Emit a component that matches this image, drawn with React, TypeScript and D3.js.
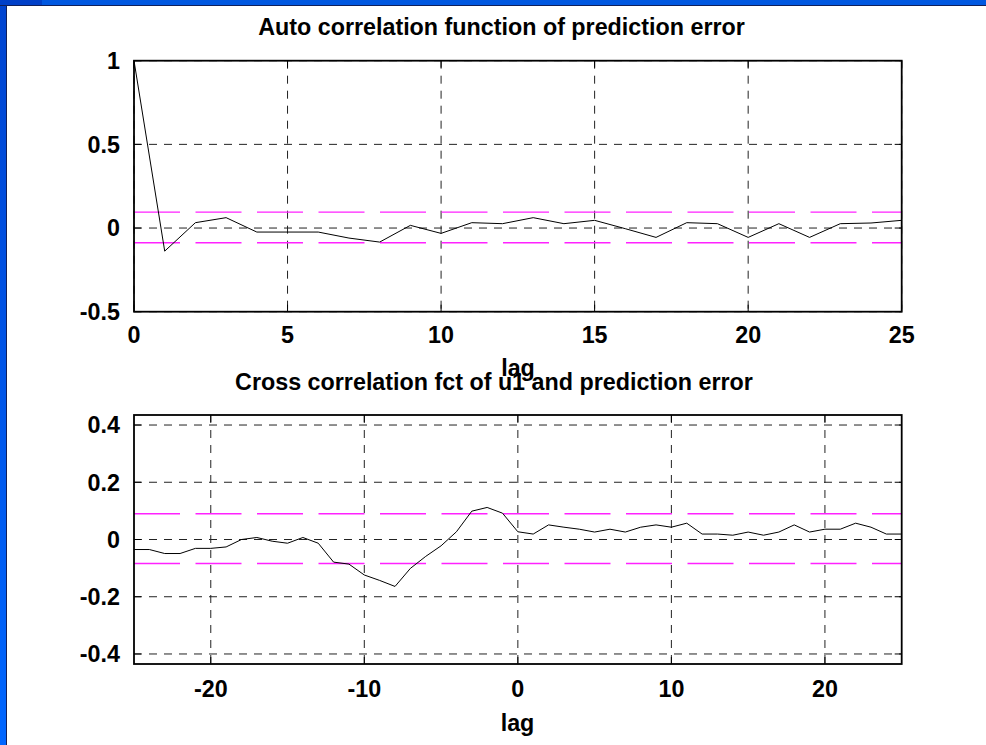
import React from "react";
import * as d3 from "d3";

const W = 986;
const H = 745;

// Auto correlation (lags 0..25)
const acfLags = d3.range(0, 26);
const acfValues = [
  1.0, -0.138, 0.032, 0.062, -0.024, -0.024, -0.024, -0.06, -0.084, 0.016,
  -0.032, 0.032, 0.026, 0.062, 0.026, 0.046, -0.004, -0.056, 0.032, 0.026,
  -0.056, 0.026, -0.056, 0.026, 0.03, 0.046,
];
const acfConf = [0.095, -0.088];
const acfXTicks = [0, 5, 10, 15, 20, 25];
const acfYTicks = [-0.5, 0, 0.5, 1];
const acfYLabels = ["-0.5", "0", "0.5", "1"];

// Cross correlation (lags -25..25)
const ccfLags = d3.range(-25, 26);
const ccfValues = [
  -0.035, -0.035, -0.049, -0.049, -0.031, -0.031, -0.026, 0.0, 0.007, -0.006,
  -0.013, 0.007, -0.013, -0.079, -0.086, -0.124, -0.143, -0.164, -0.101, -0.059,
  -0.022, 0.027, 0.099, 0.112, 0.092, 0.027, 0.019, 0.051, 0.043, 0.036,
  0.026, 0.036, 0.026, 0.043, 0.051, 0.043, 0.057, 0.019, 0.019, 0.015,
  0.026, 0.015, 0.026, 0.051, 0.026, 0.036, 0.036, 0.057, 0.043, 0.019, 0.019,
];
const ccfConf = [0.09, -0.084];
const ccfXTicks = [-20, -10, 0, 10, 20];
const ccfYTicks = [-0.4, -0.2, 0, 0.2, 0.4];
const ccfYLabels = ["-0.4", "-0.2", "0", "0.2", "0.4"];

const FONT = "'Liberation Sans', Arial, Helvetica, sans-serif";
const FS = 23.3;

type PanelProps = {
  x: d3.ScaleLinear<number, number>;
  y: d3.ScaleLinear<number, number>;
  lags: number[];
  values: number[];
  conf: number[];
  xTicks: number[];
  yTicks: number[];
  yLabels: string[];
  xLabelBaseline: number;
  title: string;
  titleX: number;
  titleY: number;
  lagX: number;
  lagY: number;
};

function Panel(p: PanelProps) {
  const [x0, x1] = p.x.range();
  const [y0, y1] = p.y.range(); // y0 bottom, y1 top
  const line = d3
    .line<number>()
    .x((_, i) => p.x(p.lags[i]))
    .y((v) => p.y(v));
  const tickLen = 7;
  return (
    <g>
      {p.xTicks.map((t) => (
        <line
          key={"gx" + t}
          x1={p.x(t)}
          x2={p.x(t)}
          y1={y1}
          y2={y0}
          stroke="#222"
          strokeWidth={1}
          strokeDasharray="8,7"
        />
      ))}
      {p.yTicks.map((t) => (
        <line
          key={"gy" + t}
          x1={x0}
          x2={x1}
          y1={p.y(t)}
          y2={p.y(t)}
          stroke="#222"
          strokeWidth={1}
          strokeDasharray="8,7"
        />
      ))}
      {p.conf.map((c, i) => (
        <line
          key={"c" + i}
          x1={x0}
          x2={x1}
          y1={p.y(c)}
          y2={p.y(c)}
          stroke="#ff22ff"
          strokeWidth={1.4}
          strokeDasharray="46,15.5"
        />
      ))}
      <path d={line(p.values) || ""} fill="none" stroke="#000" strokeWidth={1} />
      {p.xTicks.map((t) => (
        <g key={"tx" + t}>
          <line x1={p.x(t)} x2={p.x(t)} y1={y0} y2={y0 - tickLen} stroke="#000" />
          <line x1={p.x(t)} x2={p.x(t)} y1={y1} y2={y1 + tickLen} stroke="#000" />
        </g>
      ))}
      {p.yTicks.map((t) => (
        <g key={"ty" + t}>
          <line x1={x0} x2={x0 + tickLen} y1={p.y(t)} y2={p.y(t)} stroke="#000" />
          <line x1={x1} x2={x1 - tickLen} y1={p.y(t)} y2={p.y(t)} stroke="#000" />
        </g>
      ))}
      <rect
        x={x0}
        y={y1}
        width={x1 - x0}
        height={y0 - y1}
        fill="none"
        stroke="#000"
        strokeWidth={1.8}
      />
      {p.xTicks.map((t) => (
        <text
          key={"lx" + t}
          x={p.x(t)}
          y={p.xLabelBaseline}
          textAnchor="middle"
          fontFamily={FONT}
          fontWeight="bold"
          fontSize={FS}
        >
          {String(t)}
        </text>
      ))}
      {p.yTicks.map((t, i) => (
        <text
          key={"ly" + t}
          x={x0 - 14}
          y={p.y(t)}
          dy="0.36em"
          textAnchor="end"
          fontFamily={FONT}
          fontWeight="bold"
          fontSize={FS}
        >
          {p.yLabels[i]}
        </text>
      ))}
      <text
        x={p.titleX}
        y={p.titleY}
        textAnchor="middle"
        fontFamily={FONT}
        fontWeight="bold"
        fontSize={FS}
      >
        {p.title}
      </text>
      <text
        x={p.lagX}
        y={p.lagY}
        textAnchor="middle"
        fontFamily={FONT}
        fontWeight="bold"
        fontSize={FS}
      >
        lag
      </text>
    </g>
  );
}

export default function App() {
  const xA = d3.scaleLinear().domain([0, 25]).range([134, 901.7]);
  const yA = d3.scaleLinear().domain([-0.5, 1]).range([311.7, 60.7]);
  const xC = d3.scaleLinear().domain([-25, 25]).range([134, 901.7]);
  const yC = d3.scaleLinear().domain([-0.435, 0.435]).range([664, 415]);

  return (
    <svg
      width={W}
      height={H}
      viewBox={`0 0 ${W} ${H}`}
      style={{ position: "absolute", left: 0, top: 0, display: "block" }}
    >
      <defs>
        <linearGradient id="leftBlue" x1="0" y1="0" x2="0" y2="1">
          <stop offset="0" stopColor="#0044d0" />
          <stop offset="1" stopColor="#0066ff" />
        </linearGradient>
      </defs>
      <rect x={0} y={0} width={W} height={H} fill="#ffffff" />
      <rect x={0} y={0} width={7} height={H} fill="url(#leftBlue)" />
      <rect x={0} y={0} width={W} height={5} fill="#0058e0" />
      <rect x={0} y={0} width={42} height={5} fill="#0040c8" />
      <line x1={0} x2={W} y1={5.5} y2={5.5} stroke="#10205a" strokeWidth={1} />
      <line x1={6.5} x2={6.5} y1={5} y2={H} stroke="#10205a" strokeWidth={1} />

      <Panel
        x={xA}
        y={yA}
        lags={acfLags}
        values={acfValues}
        conf={acfConf}
        xTicks={acfXTicks}
        yTicks={acfYTicks}
        yLabels={acfYLabels}
        xLabelBaseline={343}
        title="Auto correlation function of prediction error"
        titleX={501.5}
        titleY={35}
        lagX={518}
        lagY={376}
      />
      <Panel
        x={xC}
        y={yC}
        lags={ccfLags}
        values={ccfValues}
        conf={ccfConf}
        xTicks={ccfXTicks}
        yTicks={ccfYTicks}
        yLabels={ccfYLabels}
        xLabelBaseline={697}
        title="Cross correlation fct of u1 and prediction error"
        titleX={494}
        titleY={390}
        lagX={517.5}
        lagY={731}
      />
    </svg>
  );
}
